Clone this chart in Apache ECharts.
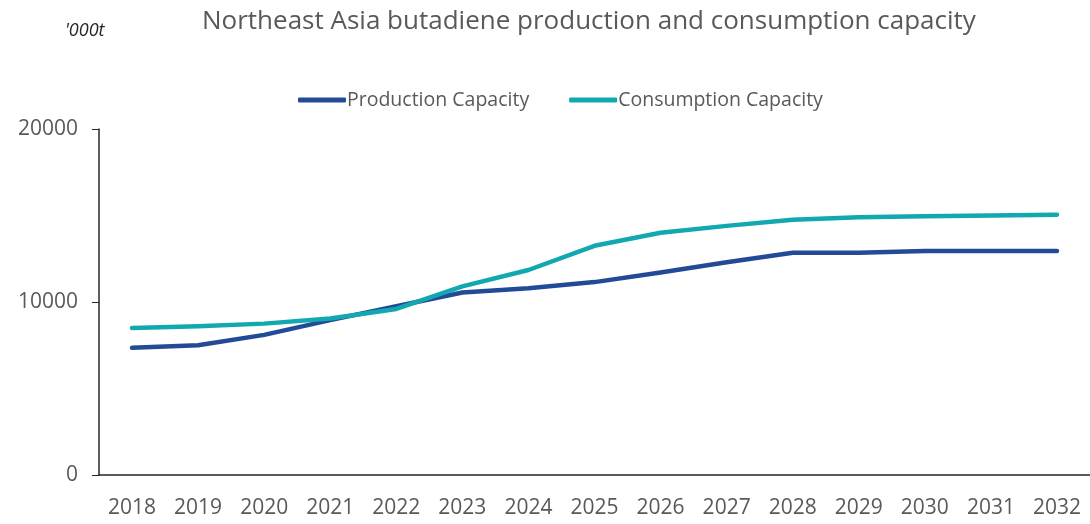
<!DOCTYPE html>
<html>
<head>
<meta charset="utf-8">
<script src="https://cdn.jsdelivr.net/npm/echarts@6/dist/echarts.min.js"></script>
<style>
  html, body { margin: 0; padding: 0; background: #fff; }
  #chart { width: 1090px; height: 524px; }
</style>
</head>
<body>
<div id="chart"></div>
<script>
const years = ['2018', '2019', '2020', '2021', '2022', '2023', '2024', '2025', '2026', '2027', '2028', '2029', '2030', '2031', '2032'];
const productionCapacity = [7350, 7500, 8100, 8950, 9750, 10550, 10800, 11150, 11700, 12300, 12850, 12850, 12950, 12950, 12950];
const consumptionCapacity = [8500, 8600, 8750, 9050, 9600, 10900, 11850, 13250, 14000, 14400, 14750, 14900, 14950, 15000, 15050];

const textColor = '#595959';
const font = 'Open Sans';

const chart = echarts.init(document.getElementById('chart'));

chart.setOption({
  animation: false,
  textStyle: { fontFamily: font },
  title: [
    {
      text: 'Northeast Asia butadiene production and consumption capacity',
      left: 197,
      top: 4,
      textStyle: { fontFamily: font, fontSize: 26, fontWeight: 'normal', color: textColor }
    },
    {
      text: "'000t",
      left: 60,
      top: 17,
      textStyle: { fontFamily: font, fontSize: 18, fontStyle: 'italic', fontWeight: 'normal', color: '#262626' }
    }
  ],
  legend: {
    left: 293,
    top: 85,
    itemWidth: 48,
    itemHeight: 5,
    itemGap: 40,
    icon: 'roundRect',
    textStyle: { fontFamily: font, fontSize: 19.5, color: textColor, padding: [0, 0, 0, -4] },
    data: ['Production Capacity', 'Consumption Capacity']
  },
  grid: { left: 99, right: 0, top: 129, bottom: 49 },
  xAxis: {
    type: 'category',
    data: years,
    axisLine: { lineStyle: { color: '#262626', width: 1.5 } },
    axisTick: { show: false },
    axisLabel: { color: textColor, fontSize: 21, margin: 23 }
  },
  yAxis: {
    type: 'value',
    min: 0,
    max: 20000,
    interval: 10000,
    splitLine: { show: false },
    axisLine: { show: true, lineStyle: { color: '#262626', width: 1.5 } },
    axisTick: { show: true, length: 7, lineStyle: { color: '#262626' } },
    axisLabel: { color: textColor, fontSize: 21, margin: 21, formatter: (v) => String(v) }
  },
  series: [
    {
      name: 'Production Capacity',
      type: 'line',
      data: productionCapacity,
      symbol: 'none',
      color: '#234A97',
      lineStyle: { width: 4.5, cap: 'round', join: 'round' }
    },
    {
      name: 'Consumption Capacity',
      type: 'line',
      data: consumptionCapacity,
      symbol: 'none',
      color: '#12A8AF',
      lineStyle: { width: 4.5, cap: 'round', join: 'round' }
    }
  ]
});
</script>
</body>
</html>
